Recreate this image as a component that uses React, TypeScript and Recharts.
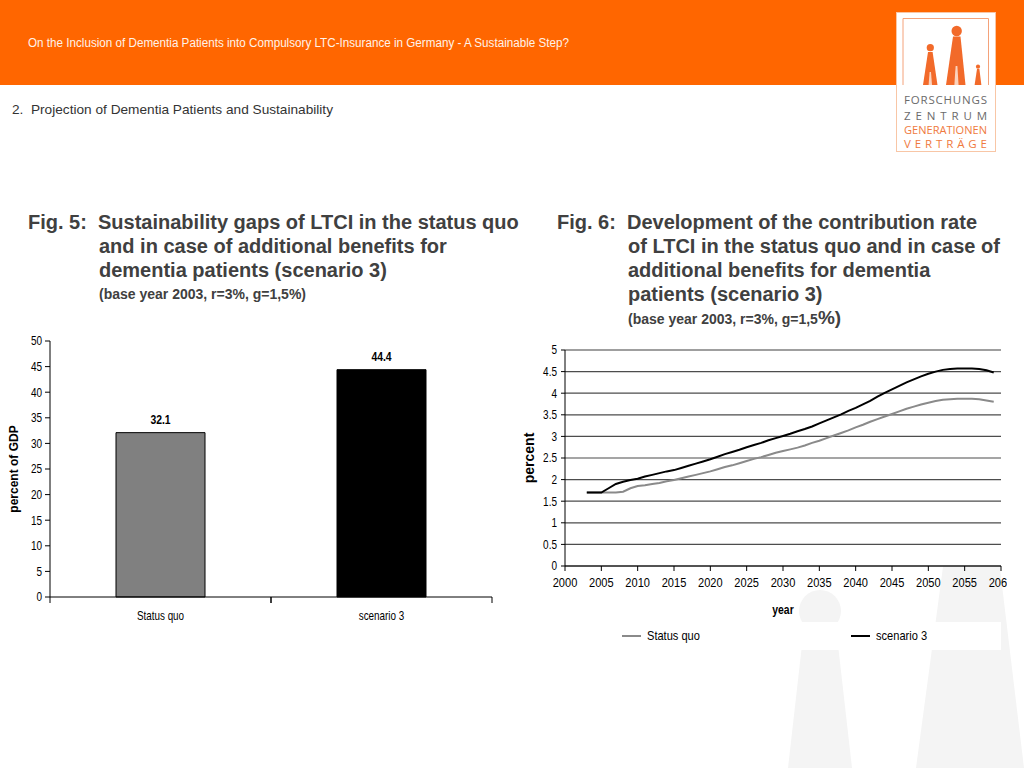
import {
  Bar,
  BarChart,
  CartesianGrid,
  Cell,
  LabelList,
  Legend,
  Line,
  LineChart,
  ReferenceLine,
  XAxis,
  YAxis,
} from 'recharts'

// Fig. 5 – sustainability gaps (percent of GDP)
const gapCategories = ['Status quo', 'scenario 3']
const gapValues = [32.1, 44.4]
const gapColors = ['#808080', '#000000']
const gapTicks = [0, 5, 10, 15, 20, 25, 30, 35, 40, 45, 50]

// Fig. 6 – contribution rate (percent)
const years = [
  2003, 2004, 2005, 2006, 2007, 2008, 2009,
  2010, 2011, 2012, 2013, 2014, 2015, 2016, 2017, 2018, 2019,
  2020, 2021, 2022, 2023, 2024, 2025, 2026, 2027, 2028, 2029,
  2030, 2031, 2032, 2033, 2034, 2035, 2036, 2037, 2038, 2039,
  2040, 2041, 2042, 2043, 2044, 2045, 2046, 2047, 2048, 2049,
  2050, 2051, 2052, 2053, 2054, 2055, 2056, 2057, 2058, 2059,
]
const statusQuo = [
  1.7, 1.7, 1.7, 1.7, 1.7, 1.72, 1.8,
  1.85, 1.87, 1.9, 1.92, 1.96, 1.99, 2.03, 2.07, 2.11, 2.15,
  2.19, 2.24, 2.29, 2.33, 2.38, 2.43, 2.48, 2.52, 2.57, 2.62,
  2.66, 2.7, 2.74, 2.79, 2.85, 2.9, 2.96, 3.02, 3.08, 3.14,
  3.21, 3.27, 3.34, 3.4, 3.46, 3.52, 3.58, 3.64, 3.69, 3.74,
  3.78, 3.82, 3.85, 3.86, 3.87, 3.87, 3.87, 3.86, 3.83, 3.8,
]
const scenario3 = [
  1.7, 1.7, 1.7, 1.8, 1.9, 1.95, 1.99,
  2.02, 2.07, 2.11, 2.15, 2.19, 2.22, 2.27, 2.32, 2.37, 2.42,
  2.47, 2.53, 2.59, 2.64, 2.69, 2.75, 2.8, 2.85, 2.91, 2.96,
  3.01, 3.06, 3.12, 3.17, 3.23, 3.3, 3.37, 3.44, 3.51, 3.59,
  3.66, 3.74, 3.82, 3.92, 4.01, 4.09, 4.17, 4.25, 4.32, 4.39,
  4.45, 4.5, 4.54, 4.56, 4.57, 4.57, 4.57, 4.56, 4.53, 4.48,
]
const seriesNames = ['Status quo', 'scenario 3']
const seriesColors = ['#8a8a8a', '#000000']
const yearTicks = [2000, 2005, 2010, 2015, 2020, 2025, 2030, 2035, 2040, 2045, 2050, 2055, 2060]
const rateTicks = [0, 0.5, 1, 1.5, 2, 2.5, 3, 3.5, 4, 4.5, 5]

const ARIAL = '"Liberation Sans", Arial, sans-serif'
const ORANGE = '#ff6600'
const TITLE = '#404040'
// horizontal squeeze that stands in for Arial Narrow
const SQUEEZE = 0.8

const gapData = gapCategories.map((name, i) => ({ name, value: gapValues[i] }))
const rateData = years.map((year, i) => ({ year, statusQuo: statusQuo[i], scenario3: scenario3[i] }))

// half of one category band in the bar chart (plot width 442 / 2 bars / 2)
const HALF_BAND = 110.5
const TICK_SIZE = 6
const TICK_MARGIN = 8

function NarrowText({ x, y, anchor, dy, size = 12.5, squeeze = SQUEEZE, bold = false, children }: any) {
  return (
    <text
      transform={`translate(${x},${y}) scale(${squeeze},1)`}
      textAnchor={anchor}
      dy={dy}
      fontSize={size}
      fontWeight={bold ? 'bold' : 'normal'}
      fill="#000"
      fontFamily={ARIAL}
    >
      {children}
    </text>
  )
}

function LeftTick(props: any) {
  const { x, y, payload } = props
  return (
    <NarrowText x={x} y={y} anchor="end" dy="0.355em">
      {payload.value}
    </NarrowText>
  )
}

function YearTick(props: any) {
  const { x, y, payload } = props
  return (
    <NarrowText x={x} y={y} anchor="middle" dy="0.71em" size={13.5} squeeze={0.82}>
      {payload.value}
    </NarrowText>
  )
}

function GapTick(props: any) {
  const { x, y, payload } = props
  const axisY = y - TICK_SIZE - TICK_MARGIN
  return (
    <g>
      <line x1={x - HALF_BAND} x2={x - HALF_BAND} y1={axisY} y2={axisY + TICK_SIZE} stroke="#000" />
      <line x1={x + HALF_BAND} x2={x + HALF_BAND} y1={axisY} y2={axisY + TICK_SIZE} stroke="#000" />
      <NarrowText x={x} y={y} anchor="middle" dy="0.71em" size={13} squeeze={0.76}>
        {payload.value}
      </NarrowText>
    </g>
  )
}

function BarValue(props: any) {
  const { x, y, width, value } = props
  return (
    <NarrowText x={x + width / 2} y={y - 9} anchor="middle" size={13} bold>
      {value}
    </NarrowText>
  )
}

function YearLabel(props: any) {
  const { viewBox } = props
  return (
    <NarrowText x={viewBox.x + viewBox.width / 2} y={viewBox.y + viewBox.height - 8} anchor="middle" size={13} bold>
      year
    </NarrowText>
  )
}

function RateLegend() {
  const offsets = [107, 336]
  return (
    <div style={{ position: 'relative', height: 28, background: '#fff', fontFamily: ARIAL, fontSize: 13.5 }}>
      {seriesNames.map((name, i) => (
        <div
          key={name}
          style={{ position: 'absolute', left: offsets[i], top: 6, display: 'flex', alignItems: 'center', color: '#000' }}
        >
          <span style={{ display: 'inline-block', width: 19, height: 2, background: seriesColors[i], marginRight: 6 }} />
          <span style={{ display: 'inline-block', transform: 'scaleX(0.82)', transformOrigin: 'left center' }}>
            {name}
          </span>
        </div>
      ))}
    </div>
  )
}

function Header() {
  return (
    <svg width={1024} height={130} style={{ position: 'absolute', left: 0, top: 0 }}>
      <rect x={0} y={0} width={1024} height={85} fill={ORANGE} />
      <text
        x={28}
        y={47}
        fontSize={12}
        fontFamily={ARIAL}
        fill="#fff3ea"
        textLength={541}
        lengthAdjust="spacingAndGlyphs"
      >
        On the Inclusion of Dementia Patients into Compulsory LTC-Insurance in Germany - A Sustainable Step?
      </text>
      <text
        x={12}
        y={114}
        fontSize={13.5}
        fontFamily={ARIAL}
        fill="#333"
        textLength={321}
        lengthAdjust="spacingAndGlyphs"
      >
        {'2.\u00a0 Projection of Dementia Patients and Sustainability'}
      </text>
    </svg>
  )
}

function Logo() {
  const fig = '#f26a2a'
  return (
    <svg width={104} height={146} style={{ position: 'absolute', left: 894, top: 10 }} viewBox="894 10 104 146">
      <rect x={896.5} y={12.5} width={99} height={139} fill="#fff" stroke="#f8c6a6" />
      <path d="M903 85 V18.5 H988.5 V85" fill="none" stroke="#f4a27a" />
      <circle cx={930.3} cy={47.7} r={3.6} fill={fig} />
      <polygon points="928,52 932.6,52 937.5,85 923,85" fill={fig} />
      <polygon points="929.6,72 931,72 932,85 928.6,85" fill="#fbd3bd" />
      <circle cx={956.7} cy={31} r={5.2} fill={fig} />
      <polygon points="953,36.5 960.5,36.5 965.5,85 946,85" fill={fig} />
      <polygon points="955.6,66 957.4,66 958.6,85 954.4,85" fill="#fbd3bd" />
      <circle cx={978} cy={66.7} r={2.1} fill={fig} />
      <polygon points="977,69 979.4,69 981.4,85 974.6,85" fill={fig} />
      <g fontFamily='"Open Sans", "Noto Sans", sans-serif' fontSize={11.5}>
        <text x={904} y={104} textLength={83} lengthAdjust="spacing" fill="#6b6b6b">FORSCHUNGS</text>
        <text x={904} y={120} textLength={83} lengthAdjust="spacing" fill="#6b6b6b">ZENTRUM</text>
        <text x={904} y={133.5} textLength={83} lengthAdjust="spacingAndGlyphs" fill="#ef7a3e">GENERATIONEN</text>
        <text x={904} y={147.5} textLength={83} lengthAdjust="spacing" fill="#ef7a3e">VERTRÄGE</text>
      </g>
    </svg>
  )
}

function Watermark() {
  const c = '#f4f4f4'
  return (
    <svg width={1024} height={768} style={{ position: 'absolute', left: 0, top: 0 }}>
      <circle cx={820} cy={611} r={21} fill={c} />
      <polygon points="803,636 837,636 852,768 788,768" fill={c} />
      <circle cx={970} cy={520} r={26} fill={c} />
      <polygon points="945,552 998,552 1024,768 916,768" fill={c} />
    </svg>
  )
}

export default function App() {
  return (
    <div
      style={{
        position: 'absolute',
        left: 0,
        top: 0,
        width: 1024,
        height: 768,
        overflow: 'hidden',
        background: '#fff',
      }}
    >
      <Watermark />
      <Header />
      <Logo />

      <div
        style={{
          position: 'absolute',
          left: 28,
          top: 210,
          fontFamily: ARIAL,
          fontWeight: 'bold',
          fontSize: 20,
          lineHeight: '24px',
          color: TITLE,
          whiteSpace: 'nowrap',
        }}
      >
        <div>Fig. 5:&nbsp; Sustainability gaps of LTCI in the status quo</div>
        <div style={{ paddingLeft: 71 }}>and in case of additional benefits for</div>
        <div style={{ paddingLeft: 71 }}>dementia patients (scenario 3)</div>
        <div style={{ paddingLeft: 71, fontSize: 14 }}>(base year 2003, r=3%, g=1,5%)</div>
      </div>

      <div
        style={{
          position: 'absolute',
          left: 557,
          top: 210,
          fontFamily: ARIAL,
          fontWeight: 'bold',
          fontSize: 20,
          lineHeight: '24px',
          color: TITLE,
          whiteSpace: 'nowrap',
        }}
      >
        <div>Fig. 6:&nbsp; Development of the contribution rate</div>
        <div style={{ paddingLeft: 71 }}>of LTCI in the status quo and in case of</div>
        <div style={{ paddingLeft: 71 }}>additional benefits for dementia</div>
        <div style={{ paddingLeft: 71 }}>patients (scenario 3)</div>
        <div style={{ paddingLeft: 71, fontSize: 14 }}>
          (base year 2003, r=3%, g=1,5<span style={{ fontSize: 19 }}>%)</span>
        </div>
      </div>

      <div style={{ position: 'absolute', left: 0, top: 330 }}>
        <BarChart
          width={500}
          height={300}
          data={gapData}
          margin={{ top: 11, right: 8, bottom: 3, left: 0 }}
          style={{ fontFamily: ARIAL }}
        >
          <CartesianGrid horizontal={false} vertical={false} fill="#fff" />
          <XAxis
            dataKey="name"
            height={30}
            tickLine={false}
            tickSize={TICK_SIZE}
            tickMargin={TICK_MARGIN}
            axisLine={{ stroke: '#000' }}
            tick={<GapTick />}
            interval={0}
          />
          <XAxis
            xAxisId="top"
            orientation="top"
            dataKey="name"
            height={0}
            tick={false}
            tickLine={false}
            axisLine={{ stroke: '#a0a0a0' }}
          />
          <YAxis
            width={50}
            domain={[0, 50]}
            ticks={gapTicks}
            interval={0}
            tickSize={5}
            tickMargin={3}
            axisLine={{ stroke: '#000' }}
            tickLine={{ stroke: '#000' }}
            tick={<LeftTick />}
            label={{
              value: 'percent of GDP',
              angle: -90,
              position: 'insideLeft',
              offset: 14,
              style: { textAnchor: 'middle', fontFamily: ARIAL, fontWeight: 'bold', fontSize: 12, fill: '#000' },
            }}
          />
          <YAxis
            yAxisId="border"
            orientation="right"
            width={0}
            domain={[0, 50]}
            tick={false}
            tickLine={false}
            axisLine={{ stroke: '#a0a0a0' }}
          />
          <Bar dataKey="value" barSize={89} stroke="#000" strokeWidth={1} isAnimationActive={false}>
            {gapData.map((d, i) => (
              <Cell key={d.name} fill={gapColors[i]} />
            ))}
            <LabelList dataKey="value" content={<BarValue />} />
          </Bar>
        </BarChart>
      </div>

      <div style={{ position: 'absolute', left: 515, top: 340 }}>
        <LineChart
          width={492}
          height={310}
          data={rateData}
          margin={{ top: 10, right: 6, bottom: 0, left: 0 }}
          style={{ fontFamily: ARIAL }}
        >
          <CartesianGrid vertical={false} stroke="#4d4d4d" strokeWidth={1.2} fill="#fff" />
          <ReferenceLine y={5} stroke="#9a9a9a" strokeWidth={1.2} />
          <XAxis
            dataKey="year"
            type="number"
            domain={[2000, 2060]}
            ticks={yearTicks}
            interval={0}
            height={56}
            tickSize={5}
            tickMargin={6}
            axisLine={{ stroke: '#000' }}
            tickLine={{ stroke: '#000' }}
            tick={<YearTick />}
            label={<YearLabel />}
          />
          <YAxis
            width={50}
            domain={[0, 5]}
            ticks={rateTicks}
            interval={0}
            tickSize={4}
            tickMargin={4}
            axisLine={{ stroke: '#000' }}
            tickLine={{ stroke: '#000' }}
            tick={<LeftTick />}
            label={{
              value: 'percent',
              angle: -90,
              position: 'insideLeft',
              offset: 14,
              style: { textAnchor: 'middle', fontFamily: ARIAL, fontWeight: 'bold', fontSize: 14, fill: '#000' },
            }}
          />
          <YAxis
            yAxisId="border"
            orientation="right"
            width={0}
            domain={[0, 5]}
            tick={false}
            tickLine={false}
            axisLine={{ stroke: '#9a9a9a' }}
          />
          <Legend verticalAlign="bottom" height={28} content={() => <RateLegend />} />
          <Line
            dataKey="statusQuo"
            name={seriesNames[0]}
            stroke={seriesColors[0]}
            strokeWidth={2}
            dot={false}
            type="linear"
            isAnimationActive={false}
          />
          <Line
            dataKey="scenario3"
            name={seriesNames[1]}
            stroke={seriesColors[1]}
            strokeWidth={2}
            dot={false}
            type="linear"
            isAnimationActive={false}
          />
        </LineChart>
      </div>
    </div>
  )
}
